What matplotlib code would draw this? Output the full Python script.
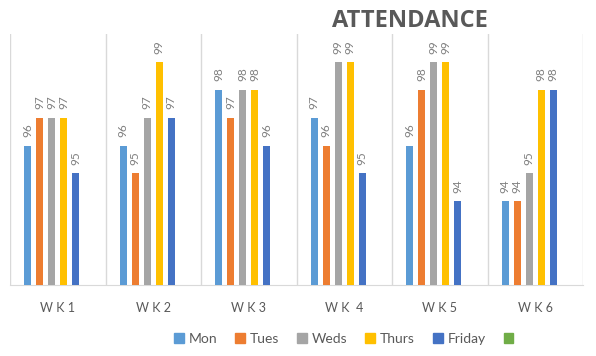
import matplotlib
matplotlib.use("Agg")
import matplotlib.pyplot as plt
import numpy as np
from matplotlib.patches import Patch

weeks = ["W K 1", "W K 2", "W K 3", "W K  4", "W K 5", "W K 6"]
series_names = ["Mon", "Tues", "Weds", "Thurs", "Friday", ""]
mon = [96, 96, 98, 97, 96, 94]
tues = [97, 95, 97, 96, 98, 94]
weds = [97, 97, 98, 99, 99, 95]
thurs = [97, 99, 98, 99, 99, 98]
friday = [95, 97, 96, 95, 94, 98]
extra = [np.nan] * 6
colors = ["#5B9BD5", "#ED7D31", "#A5A5A5", "#FFC000", "#4472C4", "#70AD47"]

plt.rcParams['font.family'] = ['Lato', 'DejaVu Sans']

fig = plt.figure(figsize=(5.96, 3.56), dpi=100)
ax = fig.add_axes([10/596, 1 - 285/356, (583 - 10)/596, (285 - 34)/356])

data = [mon, tues, weds, thurs, friday, extra]
x = np.arange(len(weeks))
slot = 12 / 95.5
bw = 7 / 95.5
n = len(data)
for i, (vals, c) in enumerate(zip(data, colors)):
    off = (i - (n - 1) / 2) * slot
    vals_arr = np.array(vals, dtype=float)
    ax.bar(x + off, vals_arr - 91, bottom=91, width=bw, color=c, zorder=3)
    for xi, v in zip(x, vals_arr):
        if not np.isnan(v):
            ax.annotate(f"{int(v)}", (xi + off, v), xytext=(0, 6), textcoords="offset points",
                        rotation=90, ha="center", va="bottom", fontsize=8.5, color="#7F7F7F")

ax.set_ylim(91, 100)
ax.set_xlim(-0.5, len(weeks) - 0.5)
ax.set_yticks([])
ax.set_xticks(x)
ax.set_xticklabels(weeks, fontsize=9, color="#595959")
ax.tick_params(axis='x', length=0, pad=12)
for b in np.arange(-0.5, len(weeks) + 0.5, 1):
    ax.axvline(b, color="#D9D9D9", lw=1, zorder=1)
for s in ["top", "right", "left"]:
    ax.spines[s].set_visible(False)
ax.spines["bottom"].set_color("#D9D9D9")

fig.text(410/596, 1 - 21/356, "ATTENDANCE", ha="center", va="center", fontsize=17,
         fontweight="bold", color="#595959", family=["Open Sans", "DejaVu Sans"])

handles = [Patch(color=c) for c in colors]
fig.legend(handles, series_names, loc="center", bbox_to_anchor=(346/596, 1 - 339/356), ncol=6,
           frameon=False, fontsize=10, handlelength=0.7, handleheight=0.7, handletextpad=0.35,
           columnspacing=1.3, labelcolor="#595959")

fig.savefig("out.png", dpi=100)
